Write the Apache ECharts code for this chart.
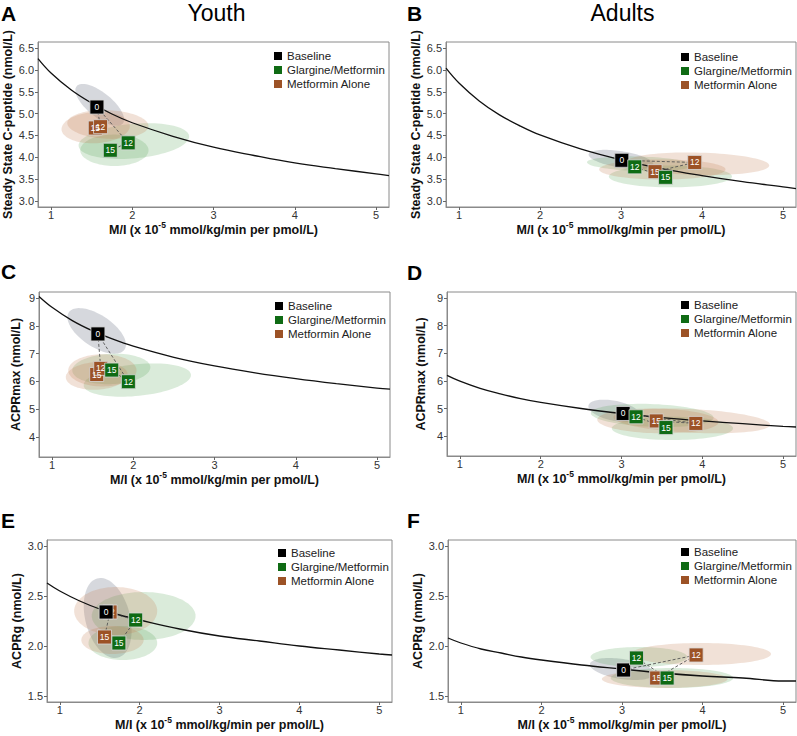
<!DOCTYPE html>
<html><head><meta charset="utf-8">
<script src="https://cdn.jsdelivr.net/npm/echarts@6/dist/echarts.min.js"></script>
<style>html,body{margin:0;padding:0;background:#fff}#c{width:797px;height:736px}</style>
</head><body><div id="c"></div>
<script>
// ---------------- data ----------------
const xTicks = [1, 2, 3, 4, 5];
const yTicksCpep = [3.0, 3.5, 4.0, 4.5, 5.0, 5.5, 6.0, 6.5];
const yTicksMax = [4, 5, 6, 7, 8, 9];
const yTicksG = [1.5, 2.0, 2.5, 3.0];
const legendNames = ['Baseline', 'Glargine/Metformin', 'Metformin Alone'];
const visitLabels = ['0', '12', '15'];

// fitted curve
const curveX = [0.84, 1, 1.25, 1.5, 1.75, 2, 2.5, 3, 3.5, 4, 4.5, 5, 5.16];
const curveA = [6.26, 5.93, 5.54, 5.24, 4.99, 4.79, 4.48, 4.23, 4.04, 3.87, 3.74, 3.62, 3.58];
const curveB = [6.04, 5.70, 5.29, 4.97, 4.72, 4.51, 4.19, 3.94, 3.74, 3.58, 3.44, 3.32, 3.28];
const curveC = [9.06, 8.67, 8.19, 7.82, 7.52, 7.27, 6.87, 6.56, 6.31, 6.10, 5.92, 5.76, 5.72];
const curveD = [6.20, 5.99, 5.73, 5.53, 5.36, 5.22, 5.00, 4.82, 4.67, 4.55, 4.45, 4.35, 4.33];
const curveE = [2.63, 2.55, 2.45, 2.37, 2.31, 2.26, 2.17, 2.10, 2.05, 2.00, 1.96, 1.92, 1.91];
const curveF = [2.08, 2.03, 1.97, 1.93, 1.89, 1.86, 1.81, 1.77, 1.73, 1.70, 1.68, 1.65, 1.65];

// points: baseline [x,y]; treatment groups [[x,y] month 12, [x,y] month 15]
const baseA = [1.565, 5.15]; const glaA = [[1.95, 4.33], [1.73, 4.16]]; const metA = [[1.61, 4.70], [1.545, 4.67]];
const baseB = [3.01, 3.93];  const glaB = [[3.17, 3.78], [3.55, 3.54]]; const metB = [[3.91, 3.88], [3.42, 3.67]];
const baseC = [1.565, 7.71]; const glaC = [[1.94, 5.99], [1.735, 6.41]]; const metC = [[1.60, 6.47], [1.55, 6.25]];
const baseD = [3.02, 4.82];  const glaD = [[3.18, 4.70], [3.55, 4.31]]; const metD = [[3.92, 4.46], [3.43, 4.55]];
const baseE = [1.58, 2.34];  const glaE = [[1.95, 2.26], [1.74, 2.03]]; const metE = [[1.63, 2.34], [1.56, 2.09]];
const baseF = [3.02, 1.76];  const glaF = [[3.18, 1.88], [3.56, 1.68]]; const metF = [[3.92, 1.91], [3.43, 1.68]];

// confidence ellipses [cx, cy, sdx, sdy, rho] order: baseline, G12, G15, M12, M15
const ellA = [[1.60, 5.20, 0.30, 0.48, -0.7], [2.02, 4.37, 0.68, 0.41, 0.25], [1.78, 4.16, 0.42, 0.36, 0.0], [1.70, 4.75, 0.50, 0.33, -0.1], [1.55, 4.68, 0.42, 0.36, 0.1]];
const ellB = [[3.00, 3.95, 0.40, 0.22, -0.5], [3.23, 3.85, 0.65, 0.17, -0.2], [3.61, 3.56, 0.76, 0.25, 0.0], [3.95, 3.85, 0.88, 0.26, -0.15], [3.51, 3.72, 0.78, 0.23, 0.0]];
const ellC = [[1.55, 7.82, 0.36, 0.82, -0.6], [2.05, 6.05, 0.66, 0.60, 0.3], [1.73, 6.45, 0.48, 0.55, 0.1], [1.62, 6.40, 0.42, 0.58, 0.0], [1.55, 6.20, 0.38, 0.50, 0.1]];
const ellD = [[2.91, 4.92, 0.32, 0.40, -0.4], [3.38, 4.75, 0.76, 0.42, -0.2], [3.63, 4.28, 0.75, 0.42, 0.0], [3.87, 4.55, 0.97, 0.45, -0.3], [3.45, 4.55, 0.75, 0.45, -0.1]];
const ellE = [[1.60, 2.28, 0.30, 0.40, -0.3], [2.05, 2.30, 0.65, 0.24, 0.0], [1.79, 2.03, 0.43, 0.17, 0.0], [1.70, 2.35, 0.52, 0.24, 0.0], [1.66, 2.06, 0.39, 0.14, 0.0]];
const ellF = [[3.00, 1.77, 0.40, 0.11, -0.4], [3.21, 1.89, 0.60, 0.10, 0.0], [3.62, 1.68, 0.76, 0.10, 0.0], [3.98, 1.92, 0.87, 0.11, 0.0], [3.53, 1.67, 0.78, 0.09, 0.0]];

// ---------------- layout / style ----------------
const FONT = '"Liberation Sans", Arial, Helvetica, sans-serif';
const COL = { base: '#000000', gla: '#0f6b14', met: '#9c5226' };
const ELLCOL = ['rgba(128,134,150,0.32)', 'rgba(80,160,80,0.21)', 'rgba(80,160,80,0.21)', 'rgba(196,128,88,0.24)', 'rgba(196,128,88,0.24)'];
const XR = [0.84, 5.16];

const panels = [
  { grid: { left: 38, top: 42, width: 351, height: 165 }, yr: [2.86, 6.64], yt: yTicksCpep, dec: 1, yName: 'Steady State C-peptide (nmol/L)', yGap: 21,
    curve: curveA, base: baseA, gla: glaA, met: metA, ell: ellA, lg: { left: 274, top: 49 } },
  { grid: { left: 446, top: 42, width: 350, height: 165 }, yr: [2.86, 6.64], yt: yTicksCpep, dec: 1, yName: 'Steady State C-peptide (nmol/L)', yGap: 24,
    curve: curveB, base: baseB, gla: glaB, met: metB, ell: ellB, lg: { left: 681, top: 50 } },
  { grid: { left: 39, top: 292, width: 351, height: 165 }, yr: [3.28, 9.22], yt: yTicksMax, dec: 0, yName: 'ACPRmax (nmol/L)', yGap: 17,
    curve: curveC, base: baseC, gla: glaC, met: metC, ell: ellC, lg: { left: 275, top: 299 } },
  { grid: { left: 447, top: 292, width: 349, height: 164 }, yr: [3.28, 9.22], yt: yTicksMax, dec: 0, yName: 'ACPRmax (nmol/L)', yGap: 20,
    curve: curveD, base: baseD, gla: glaD, met: metD, ell: ellD, lg: { left: 681, top: 298 } },
  { grid: { left: 47, top: 540, width: 345, height: 162 }, yr: [1.44, 3.06], yt: yTicksG, dec: 1, yName: 'ACPRg (nmol/L)', yGap: 21,
    curve: curveE, base: baseE, gla: glaE, met: metE, ell: ellE, lg: { left: 278, top: 546 } },
  { grid: { left: 448, top: 540, width: 348, height: 162 }, yr: [1.44, 3.06], yt: yTicksG, dec: 1, yName: 'ACPRg (nmol/L)', yGap: 21,
    curve: curveF, base: baseF, gla: glaF, met: metF, ell: ellF, lg: { left: 681, top: 545 } }
];

const grids = [], xAxes = [], yAxes = [], series = [], legends = [];

panels.forEach((p, i) => {
  grids.push(Object.assign({ show: true, borderColor: '#8a8a8a', borderWidth: 1, backgroundColor: 'transparent', containLabel: false }, p.grid));
  xAxes.push({
    type: 'value', gridIndex: i, min: XR[0], max: XR[1],
    name: '{b|M/I (x 10}{s|-5}{b| mmol/kg/min per pmol/L)}', nameLocation: 'middle', nameGap: 12,
    nameTextStyle: { rich: {
      b: { fontFamily: FONT, fontWeight: 'bold', fontSize: 12.5, color: '#111', lineHeight: 16, verticalAlign: 'bottom' },
      s: { fontFamily: FONT, fontWeight: 'bold', fontSize: 8.5, color: '#111', lineHeight: 16, verticalAlign: 'top' } } },
    axisLine: { show: true, onZero: false, lineStyle: { color: '#8a8a8a', width: 1 } },
    axisTick: { show: true, length: 3, customValues: xTicks, lineStyle: { color: '#666' } },
    axisLabel: { customValues: xTicks, margin: 2, fontSize: 11, color: '#333', fontFamily: FONT },
    splitLine: { show: false }
  });
  yAxes.push({
    type: 'value', gridIndex: i, min: p.yr[0], max: p.yr[1],
    name: p.yName, nameLocation: 'middle', nameGap: p.yGap,
    nameTextStyle: { fontFamily: FONT, fontWeight: 'bold', fontSize: 12.5, color: '#111' },
    axisLine: { show: true, onZero: false, lineStyle: { color: '#8a8a8a', width: 1 } },
    axisTick: { show: true, length: 3, customValues: p.yt, lineStyle: { color: '#666' } },
    axisLabel: { customValues: p.yt, margin: 4, fontSize: 11, color: '#333', fontFamily: FONT,
      formatter: v => Number(v).toFixed(p.dec) },
    splitLine: { show: false }
  });
  // ellipses
  series.push({
    type: 'custom', xAxisIndex: i, yAxisIndex: i, z: 1, silent: true,
    data: p.ell,
    renderItem: (params, api) => {
      const cx = api.value(0), cy = api.value(1), sx = api.value(2), sy = api.value(3), r = api.value(4);
      const phi = Math.acos(r);
      const pts = [];
      for (let k = 0; k < 90; k++) {
        const t = k / 90 * 2 * Math.PI;
        pts.push(api.coord([cx + sx * Math.cos(t), cy + sy * Math.cos(t - phi)]));
      }
      return { type: 'polygon', shape: { points: pts }, style: { fill: ELLCOL[params.dataIndex], stroke: null } };
    }
  });
  // fitted curve
  series.push({
    type: 'line', xAxisIndex: i, yAxisIndex: i, z: 2, silent: true, smooth: 0.4, showSymbol: false, symbol: 'none',
    data: curveX.map((x, k) => [x, p.curve[k]]),
    lineStyle: { color: '#111', width: 1.3 }
  });
  // dashed connections
  [p.gla, p.met].forEach(g => {
    series.push({
      type: 'line', xAxisIndex: i, yAxisIndex: i, z: 3, silent: true, symbol: 'none',
      data: [p.base, g[0], g[1]],
      lineStyle: { color: '#555', width: 0.9, type: [3, 2] }
    });
  });
  const mk = (name, pts, color, labs, z) => ({
    type: 'scatter', name: name, xAxisIndex: i, yAxisIndex: i, z: z,
    symbol: 'rect', symbolSize: 14,
    data: pts.map((pt, k) => ({ value: pt, name: labs[k] })),
    itemStyle: { color: color, opacity: 1, borderColor: '#d8d8d8', borderWidth: 0.8 },
    label: { show: true, position: 'inside', formatter: '{b}', color: '#fff', fontSize: 8.5, fontFamily: FONT },
    labelLayout: { hideOverlap: false },
    emphasis: { disabled: true }
  });
  series.push(mk(legendNames[2], [p.met[1], p.met[0]], COL.met, [visitLabels[2], visitLabels[1]], 4));
  series.push(mk(legendNames[0], [p.base], COL.base, [visitLabels[0]], 5));
  series.push(mk(legendNames[1], [p.gla[1], p.gla[0]], COL.gla, [visitLabels[2], visitLabels[1]], 6));
  legends.push({
    data: legendNames, orient: 'vertical', left: p.lg.left, top: p.lg.top,
    icon: 'rect', itemWidth: 8, itemHeight: 8, itemGap: 0, selectedMode: false, padding: 0,
    itemStyle: { borderWidth: 0 },
    textStyle: { fontFamily: FONT, fontSize: 11.5, color: '#222', lineHeight: 14 }
  });
});

const txt = (s, x, y, size, weight, align) => ({
  type: 'text', x: x, y: y, silent: true,
  style: { text: s, fill: '#000', font: weight + ' ' + size + 'px ' + FONT, align: align, verticalAlign: 'middle',
    textAlign: align, textVerticalAlign: 'middle' }
});

const chart = echarts.init(document.getElementById('c'), null, { renderer: 'svg', width: 797, height: 736 });
chart.setOption({
  animation: false,
  backgroundColor: '#fff',
  textStyle: { fontFamily: FONT },
  grid: grids, xAxis: xAxes, yAxis: yAxes, legend: legends, series: series,
  graphic: [
    txt('Youth', 216.5, 13, 23, 'normal', 'center'),
    txt('Adults', 622.5, 13, 23, 'normal', 'center'),
    txt('A', 1, 13, 21, 'bold', 'left'),
    txt('B', 407, 13, 21, 'bold', 'left'),
    txt('C', 1, 271, 21, 'bold', 'left'),
    txt('D', 407, 272, 21, 'bold', 'left'),
    txt('E', 1, 520, 21, 'bold', 'left'),
    txt('F', 407, 520, 21, 'bold', 'left')
  ]
});
</script></body></html>
